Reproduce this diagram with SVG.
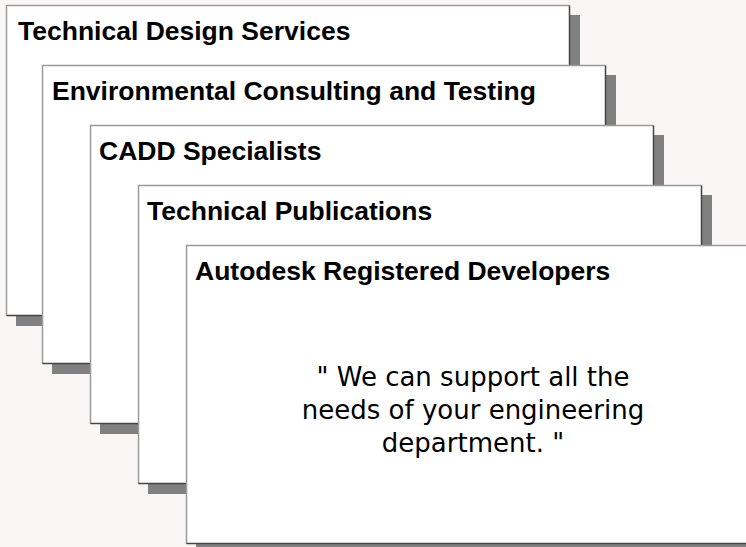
<svg xmlns="http://www.w3.org/2000/svg" width="746" height="547" viewBox="0 0 746 547">
<style>
.bg{fill:#faf6f6}
.shadow{fill:#808080}
.card{fill:#ffffff}
.lt{fill:none;stroke:#9a9a9a;stroke-width:1.5}
.dk{fill:none;stroke:#454545;stroke-width:1.5}
.title{font-family:"Liberation Sans",Arial,sans-serif;font-weight:bold;font-size:26.5px;fill:#000}
.quote{font-family:"DejaVu Sans","Open Sans",sans-serif;font-size:26px;fill:#000;text-anchor:middle}
</style>
<rect class="bg" x="0" y="0" width="746" height="547"/>
<g id="card1">
<rect class="shadow" x="16" y="15" width="564" height="311"/>
<rect class="card" x="6" y="5" width="564" height="311"/>
<path class="lt" d="M6.5 316 V5.5 H569.5"/>
<path class="dk" d="M6.5 315.5 H569.5 V5.5"/>
<text class="title" x="18" y="40">Technical Design Services</text>
</g>
<g id="card2">
<rect class="shadow" x="52" y="75" width="564" height="299"/>
<rect class="card" x="42" y="65" width="564" height="299"/>
<path class="lt" d="M42.5 364 V65.5 H605.5"/>
<path class="dk" d="M42.5 363.5 H605.5 V65.5"/>
<text class="title" x="52" y="100">Environmental Consulting and Testing</text>
</g>
<g id="card3">
<rect class="shadow" x="100" y="135" width="564" height="299"/>
<rect class="card" x="90" y="125" width="564" height="299"/>
<path class="lt" d="M90.5 424 V125.5 H653.5"/>
<path class="dk" d="M90.5 423.5 H653.5 V125.5"/>
<text class="title" x="99" y="160">CADD Specialists</text>
</g>
<g id="card4">
<rect class="shadow" x="148" y="195" width="564" height="299"/>
<rect class="card" x="138" y="185" width="564" height="299"/>
<path class="lt" d="M138.5 484 V185.5 H701.5"/>
<path class="dk" d="M138.5 483.5 H701.5 V185.5"/>
<text class="title" x="147" y="220">Technical Publications</text>
</g>
<g id="card5">
<rect class="shadow" x="196" y="255" width="564" height="299"/>
<rect class="card" x="186" y="245" width="564" height="299"/>
<path class="lt" d="M186.5 544 V245.5 H750"/>
<path class="dk" d="M186.5 543.5 H750"/>
<text class="title" x="195" y="280">Autodesk Registered Developers</text>
<text class="quote" x="473" y="386">" We can support all the</text>
<text class="quote" x="473" y="419">needs of your engineering</text>
<text class="quote" x="473" y="452">department. "</text>
</g>
</svg>
